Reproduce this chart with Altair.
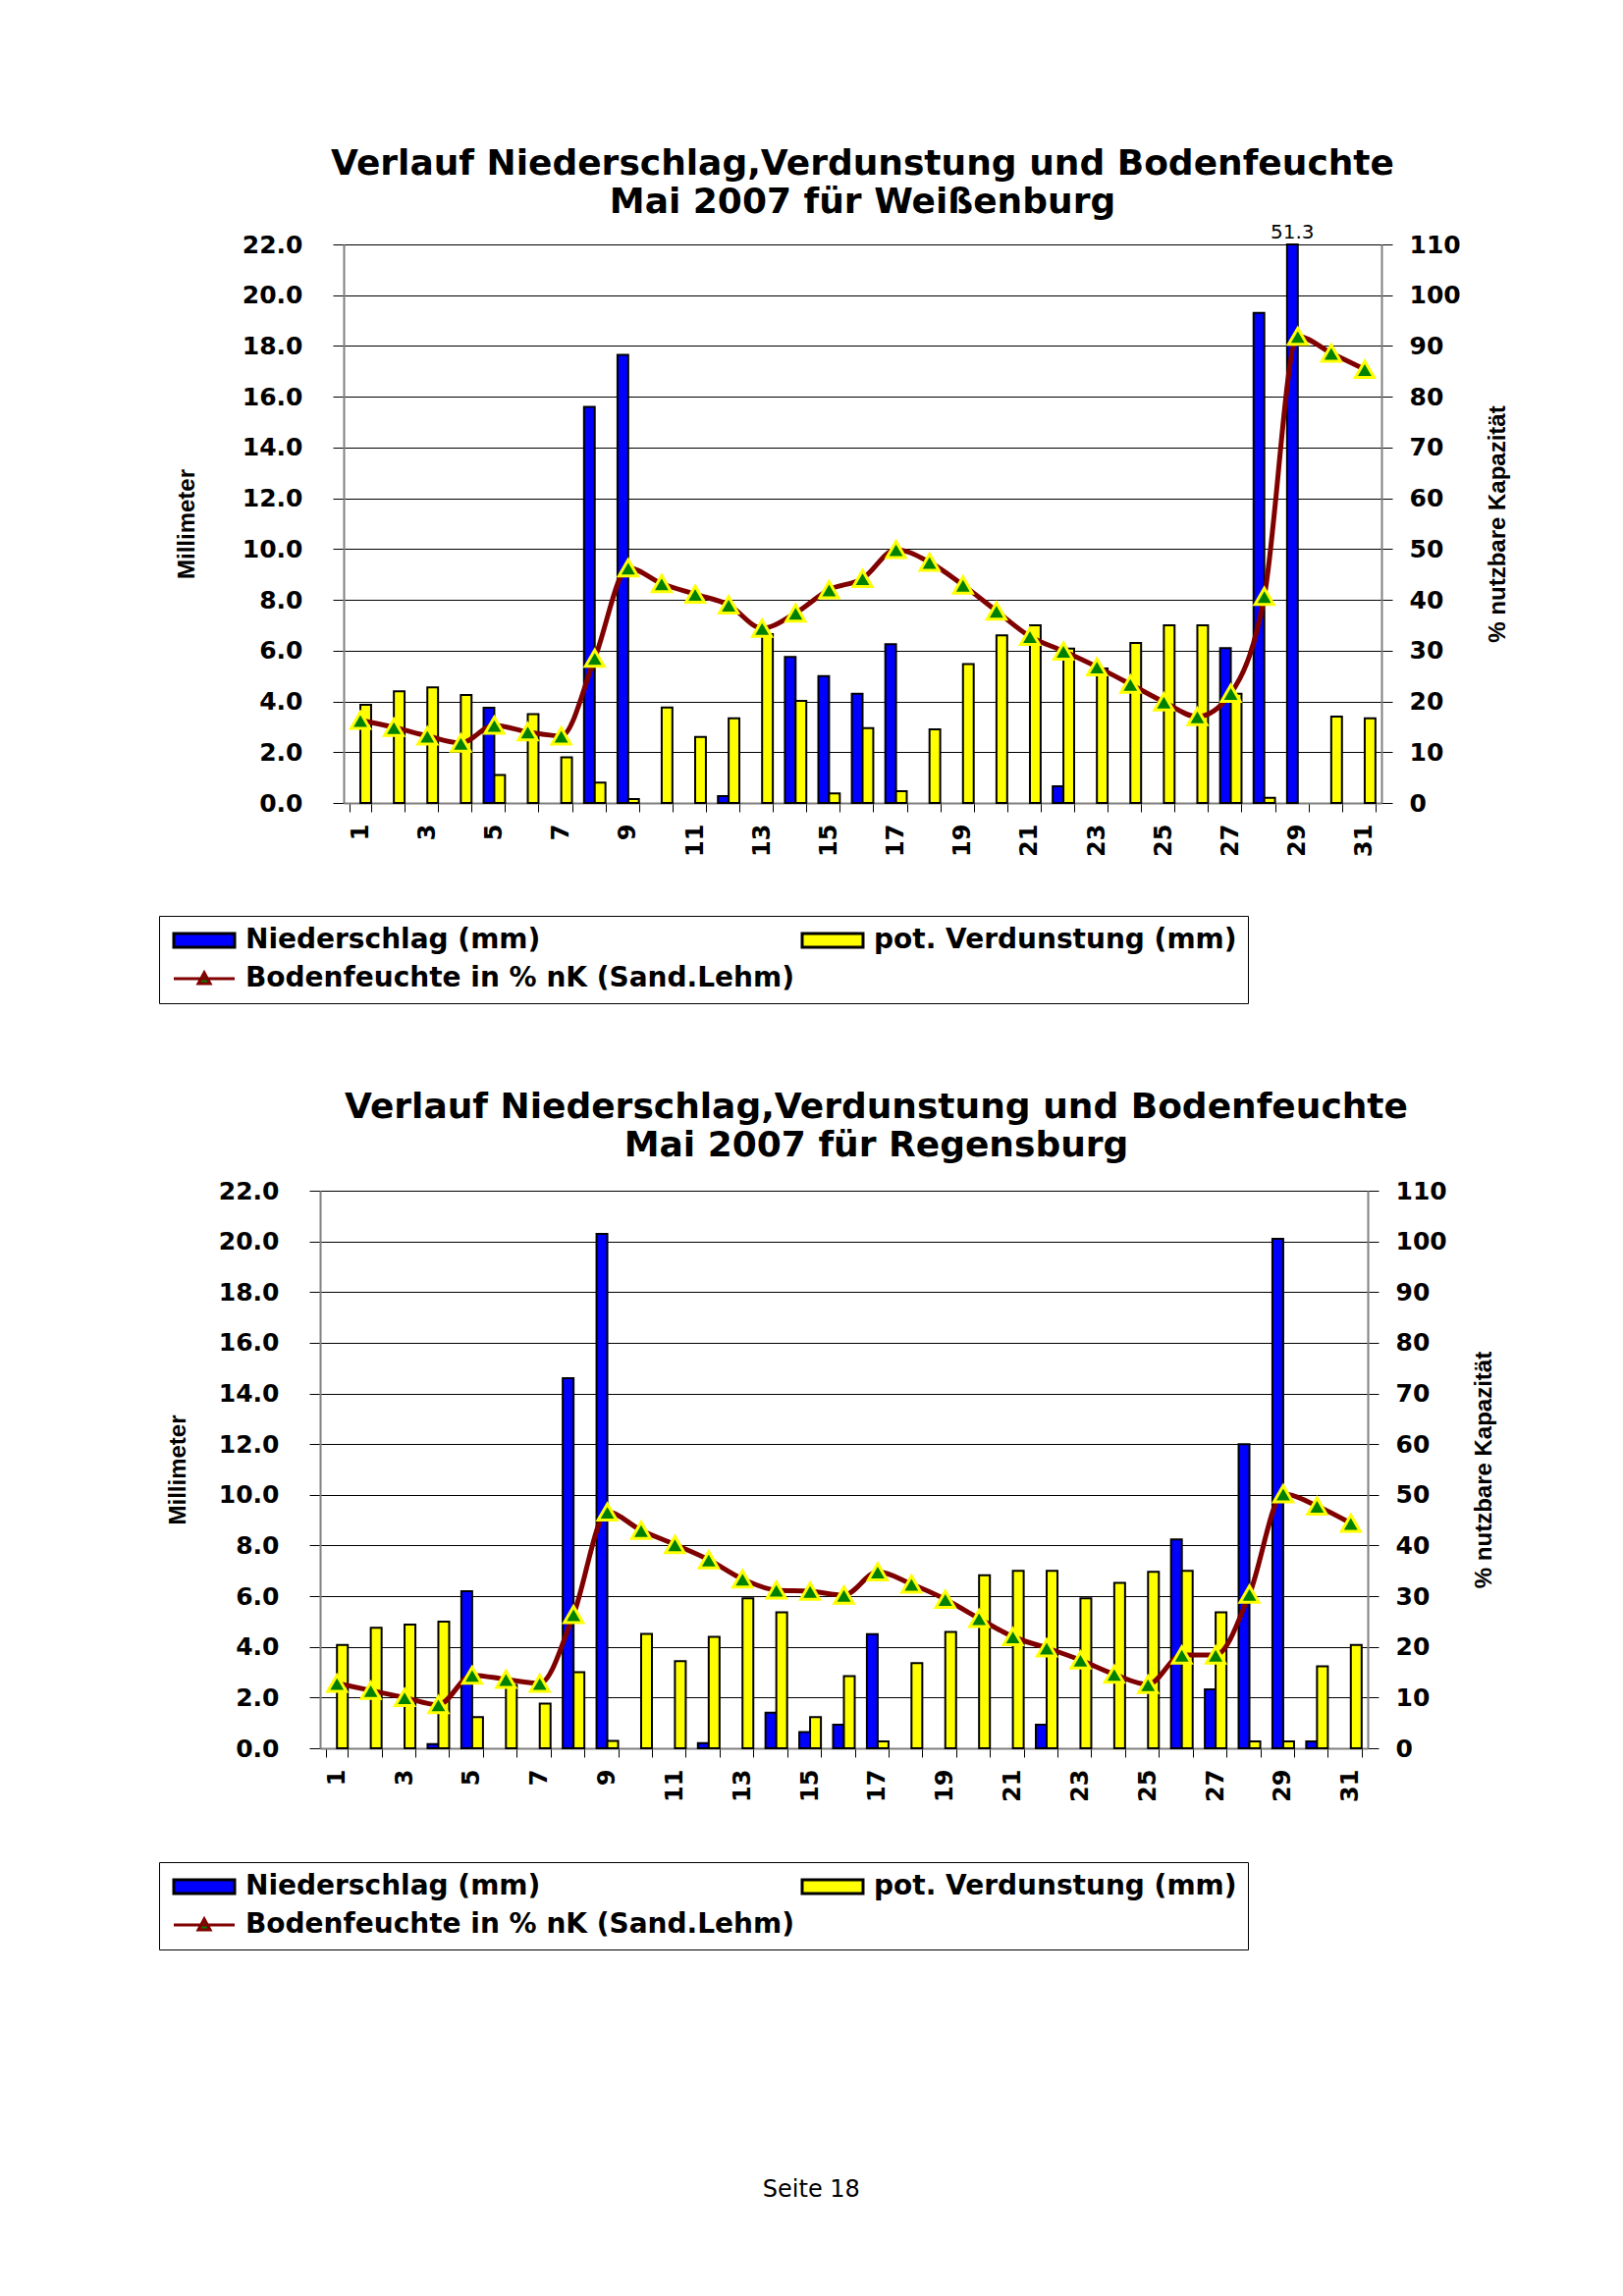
import altair as alt
import pandas as pd

# ---------------- data ----------------
DAYS = list(range(1, 32))

SERIES_N = "Niederschlag (mm)"
SERIES_V = "pot. Verdunstung (mm)"
SERIES_B = "Bodenfeuchte in % nK (Sand.Lehm)"
SERIES = [SERIES_N, SERIES_V, SERIES_B]

LEFT_TICKS = [0, 2, 4, 6, 8, 10, 12, 14, 16, 18, 20, 22]
RIGHT_TICKS = [0, 10, 20, 30, 40, 50, 60, 70, 80, 90, 100, 110]

TITLE_LINE_1 = "Verlauf Niederschlag,Verdunstung und Bodenfeuchte"
TITLE_WEI = "Mai 2007 für Weißenburg"
TITLE_REG = "Mai 2007 für Regensburg"
Y_LEFT_TITLE = "Millimeter"
Y_RIGHT_TITLE = "% nutzbare Kapazität"
FOOTER = "Seite 18"

WEI_NIEDERSCHLAG = [0, 0, 0, 0, 3.75, 0, 0, 15.6, 17.65, 0, 0, 0.27, 0, 5.75, 5.0, 4.3,
                    6.25, 0, 0, 0, 0, 0.66, 0, 0, 0, 0, 6.1, 19.3, 51.3, 0, 0]
WEI_VERDUNSTUNG = [3.87, 4.4, 4.55, 4.25, 1.1, 3.5, 1.8, 0.8, 0.15, 3.76, 2.6, 3.33, 6.65, 4.02,
                   0.38, 2.95, 0.46, 2.9, 5.47, 6.6, 7.0, 6.08, 5.3, 6.3, 7.0, 7.0, 4.3, 0.2, 0,
                   3.4, 3.33]
WEI_BODENFEUCHTE = [16.3, 14.9, 13.2, 11.8, 15.3, 14.0, 13.2, 28.5, 46.3, 43.2, 41.1, 39.0, 34.4,
                    37.4, 42.0, 44.2, 49.9, 47.4, 42.9, 37.8, 32.8, 29.9, 26.8, 23.4, 19.9, 17.0,
                    21.6, 40.7, 91.9, 88.6, 85.4]

REG_NIEDERSCHLAG = [0, 0, 0, 0.16, 6.2, 0, 0, 14.6, 20.3, 0, 0, 0.2, 0, 1.4, 0.64, 0.93,
                    4.5, 0, 0, 0, 0, 0.93, 0, 0, 0, 8.24, 2.32, 12.0, 20.1, 0.27, 0]
REG_VERDUNSTUNG = [4.08, 4.75, 4.88, 5.0, 1.23, 2.5, 1.76, 3.0, 0.29, 4.51, 3.44, 4.4, 5.92, 5.36,
                   1.23, 2.85, 0.27, 3.36, 4.59, 6.83, 7.0, 7.0, 5.92, 6.53, 6.96, 7.0, 5.36, 0.27,
                   0.27, 3.23, 4.08]
REG_BODENFEUCHTE = [12.8, 11.4, 10.0, 8.6, 14.4, 13.6, 12.8, 26.4, 46.6, 43.0, 40.2, 37.2, 33.4,
                    31.2, 31.0, 30.2, 34.8, 32.4, 29.4, 25.6, 22.0, 19.8, 17.4, 14.6, 12.6, 18.4,
                    18.4, 30.4, 50.2, 47.8, 44.4]

# ---------------- styling ----------------
BAR_COLORS = ["#0000FF", "#FFFF00"]
FILL_COLORS = ["#0000FF", "#FFFF00", "#008000"]
STROKE_COLORS = ["#000000", "#000000", "#800000"]
RECT_PATH = "M-3.1,-0.7H3.1V0.7H-3.1Z"
LINE_TRI_PATH = "M-3.1,0H3.1M-0.6,0.5L0,-0.6L0.6,0.5Z"
SHAPES = [RECT_PATH, RECT_PATH, LINE_TRI_PATH]

BOLD = "DejaVu Sans"
NARROW = "Liberation Sans Narrow, Liberation Sans"
GREY = "#808080"


def station_chart(place_title, nied, verd, boden, inset, plot_width, height, legend_x,
                  legend_y, title_offset, title_dx, ytitle_pad):
    """inset: horizontal shift of the plot area inside the panel (pixels)."""
    total_width = inset + plot_width
    bars = pd.DataFrame({
        "day": DAYS + DAYS,
        "series": [SERIES_N] * len(DAYS) + [SERIES_V] * len(DAYS),
        "value": nied + verd,
    })
    moist = pd.DataFrame({"day": DAYS, "moisture": boden})
    legend_df = pd.DataFrame({"series": SERIES})

    x_enc = alt.X(
        "day:O", title=None,
        scale=alt.Scale(paddingInner=0.36, paddingOuter=0.18, range=[inset, total_width]),
        axis=alt.Axis(labelAngle=270,
                      labelExpr="datum.value % 2 == 1 ? datum.label : ''",
                      labelOverlap=False, tickBand="extent", tickSize=9,
                      tickColor="black", domainColor=GREY, domainWidth=2,
                      labelFont=BOLD, labelFontSize=24, labelFontWeight="bold",
                      labelColor="black", labelPadding=12, grid=False),
    )
    x_off = alt.XOffset("series:N", scale=alt.Scale(domain=[SERIES_N, SERIES_V]))

    y_left = alt.Y(
        "value:Q",
        scale=alt.Scale(domain=[0, 22], nice=False, clamp=True),
        axis=alt.Axis(values=LEFT_TICKS, format=".1f", title=Y_LEFT_TITLE, offset=-inset,
                      titleFont=NARROW, titleFontSize=24, titleFontWeight="bold",
                      titleColor="black", titleAngle=270, titlePadding=ytitle_pad,
                      labelFont=BOLD, labelFontSize=25, labelFontWeight="bold",
                      labelColor="black", labelPadding=31, tickSize=11,
                      tickColor="black", grid=True, gridColor="black", gridWidth=1,
                      domainColor=GREY, domainWidth=2),
    )
    y_right = alt.Y(
        "moisture:Q",
        scale=alt.Scale(domain=[0, 110], nice=False),
        axis=alt.Axis(orient="right", values=RIGHT_TICKS, format="d",
                      title=Y_RIGHT_TITLE, titleFont="Liberation Sans",
                      titleFontSize=24, titleFontWeight="bold", titleColor="black",
                      titleAngle=270, titleBaseline="top", titlePadding=26,
                      labelFont=BOLD, labelFontSize=25, labelFontWeight="bold",
                      labelColor="black", labelPadding=17, tickSize=11,
                      tickColor="black", grid=False, domainColor=GREY, domainWidth=2),
    )

    fill_scale = alt.Scale(domain=SERIES, range=FILL_COLORS)
    stroke_scale = alt.Scale(domain=SERIES, range=STROKE_COLORS)
    shape_scale = alt.Scale(domain=SERIES, range=SHAPES)

    legend = alt.Legend(
        title=None, orient="none", legendX=legend_x, legendY=legend_y,
        columns=2, direction="horizontal", gridAlign="all",
        symbolSize=400, symbolStrokeWidth=3, symbolOpacity=1,
        symbolOffset=21, labelOffset=28,
        labelFont=BOLD, labelFontSize=28, labelFontWeight="bold",
        labelColor="black", labelLimit=0,
        strokeColor="black", fillColor="white", padding=11,
        rowPadding=11, columnPadding=2,
    )

    bar_layer = alt.Chart(bars).transform_filter("datum.value > 0").mark_bar(
        stroke="black", strokeWidth=2
    ).encode(
        x=x_enc, xOffset=x_off, y=y_left,
        color=alt.Color("series:N",
                        scale=alt.Scale(domain=[SERIES_N, SERIES_V], range=BAR_COLORS),
                        legend=None),
    )

    over_label = alt.Chart(bars).transform_filter("datum.value > 22").mark_text(
        dy=-12, font=BOLD, fontSize=20, color="black"
    ).encode(
        x=x_enc, xOffset=x_off, y=y_left,
        text=alt.Text("value:Q", format=".1f"),
    )

    legend_layer = alt.Chart(legend_df).transform_filter("false").mark_point(
        filled=True, opacity=1, strokeWidth=3
    ).encode(
        fill=alt.Fill("series:N", scale=fill_scale, legend=legend),
        stroke=alt.Stroke("series:N", scale=stroke_scale, legend=legend),
        shape=alt.Shape("series:N", scale=shape_scale, legend=legend),
    )

    left_group = alt.layer(bar_layer, over_label, legend_layer)

    line = alt.Chart(moist).mark_line(
        color="#800000", strokeWidth=5, interpolate="monotone"
    ).encode(x=x_enc, y=y_right)
    pts = alt.Chart(moist).mark_point(
        shape="triangle-up", filled=True, fill="#008000", stroke="#FFFF00",
        strokeWidth=3, size=360, opacity=1
    ).encode(x=x_enc, y=y_right)

    right_group = alt.layer(line, pts)

    return alt.layer(left_group, right_group).resolve_scale(y="independent").properties(
        width=total_width, height=height,
        title=alt.TitleParams(
            text=[TITLE_LINE_1, place_title], anchor="middle", frame="group",
            font=BOLD, fontSize=36, fontWeight="bold", color="black",
            lineHeight=39, offset=title_offset, dx=title_dx,
        ),
    )


top = station_chart(TITLE_WEI, WEI_NIEDERSCHLAG, WEI_VERDUNSTUNG, WEI_BODENFEUCHTE,
                    24, 1057, 569, -164, 684, 2, 12, 44)
bottom = station_chart(TITLE_REG, REG_NIEDERSCHLAG, REG_VERDUNSTUNG, REG_BODENFEUCHTE,
                       0, 1067, 568, -164, 684, 15, 33, 29)

chart = alt.concat(top, bottom, columns=1, align="none", spacing=86).resolve_scale(
    fill="independent", stroke="independent", shape="independent", xOffset="independent"
).properties(
    padding={"left": 153, "top": 140, "right": 10, "bottom": 10},
    title=alt.TitleParams(FOOTER, orient="bottom", anchor="middle", font=BOLD,
                          fontSize=24, fontWeight="normal", color="black",
                          offset=232, dx=-23),
).configure_view(stroke="transparent")

chart.save("out.html", embed_options={"renderer": "svg", "actions": False})
